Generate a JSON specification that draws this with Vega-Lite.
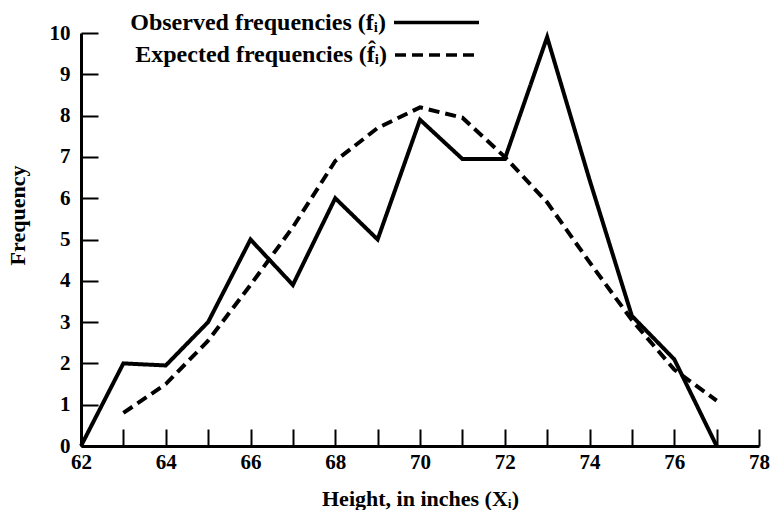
{
  "$schema": "https://vega.github.io/schema/vega-lite/v6.json",
  "width": 678,
  "height": 413,
  "autosize": {"type": "none"},
  "padding": {"left": 81, "top": 33, "right": 14, "bottom": 64},
  "background": "white",
  "config": {
    "view": {"stroke": null},
    "font": "Liberation Serif",
    "axis": {
      "domainColor": "black", "domainWidth": 3, "tickColor": "black", "tickWidth": 2,
      "labelColor": "black", "labelFont": "Liberation Serif", "labelFontSize": 21, "labelFontWeight": "bold",
      "titleColor": "black", "titleFont": "Liberation Serif", "titleFontSize": 22, "titleFontWeight": "bold",
      "grid": false, "labelFlush": false
    },
    "legend": {
      "title": null, "orient": "none", "symbolType": "stroke", "symbolStrokeColor": "black",
      "symbolStrokeWidth": 3.5, "labelAlign": "right", "labelFont": "Liberation Serif", "labelFontSize": 24,
      "labelFontWeight": "bold", "labelColor": "black", "labelLimit": 400
    }
  },
  "data": {
    "values": [
      {"h": 62, "f": 0, "s": "Observed frequencies (fᵢ)"},
      {"h": 63, "f": 2.0, "s": "Observed frequencies (fᵢ)"},
      {"h": 64, "f": 1.95, "s": "Observed frequencies (fᵢ)"},
      {"h": 65, "f": 3.0, "s": "Observed frequencies (fᵢ)"},
      {"h": 66, "f": 5.0, "s": "Observed frequencies (fᵢ)"},
      {"h": 67, "f": 3.9, "s": "Observed frequencies (fᵢ)"},
      {"h": 68, "f": 6.0, "s": "Observed frequencies (fᵢ)"},
      {"h": 69, "f": 5.0, "s": "Observed frequencies (fᵢ)"},
      {"h": 70, "f": 7.9, "s": "Observed frequencies (fᵢ)"},
      {"h": 71, "f": 6.95, "s": "Observed frequencies (fᵢ)"},
      {"h": 72, "f": 6.95, "s": "Observed frequencies (fᵢ)"},
      {"h": 73, "f": 9.9, "s": "Observed frequencies (fᵢ)"},
      {"h": 74, "f": 6.45, "s": "Observed frequencies (fᵢ)"},
      {"h": 75, "f": 3.15, "s": "Observed frequencies (fᵢ)"},
      {"h": 76, "f": 2.1, "s": "Observed frequencies (fᵢ)"},
      {"h": 77, "f": 0, "s": "Observed frequencies (fᵢ)"},
      {"h": 63, "f": 0.8, "s": "Expected frequencies (f̂ᵢ)"},
      {"h": 64, "f": 1.5, "s": "Expected frequencies (f̂ᵢ)"},
      {"h": 65, "f": 2.55, "s": "Expected frequencies (f̂ᵢ)"},
      {"h": 66, "f": 3.9, "s": "Expected frequencies (f̂ᵢ)"},
      {"h": 67, "f": 5.3, "s": "Expected frequencies (f̂ᵢ)"},
      {"h": 68, "f": 6.9, "s": "Expected frequencies (f̂ᵢ)"},
      {"h": 69, "f": 7.7, "s": "Expected frequencies (f̂ᵢ)"},
      {"h": 70, "f": 8.2, "s": "Expected frequencies (f̂ᵢ)"},
      {"h": 71, "f": 7.95, "s": "Expected frequencies (f̂ᵢ)"},
      {"h": 72, "f": 7.0, "s": "Expected frequencies (f̂ᵢ)"},
      {"h": 73, "f": 5.9, "s": "Expected frequencies (f̂ᵢ)"},
      {"h": 74, "f": 4.45, "s": "Expected frequencies (f̂ᵢ)"},
      {"h": 75, "f": 3.05, "s": "Expected frequencies (f̂ᵢ)"},
      {"h": 76, "f": 1.85, "s": "Expected frequencies (f̂ᵢ)"},
      {"h": 77, "f": 1.1, "s": "Expected frequencies (f̂ᵢ)"}
    ]
  },
  "encoding": {
    "x": {
      "field": "h", "type": "quantitative",
      "scale": {"domain": [62, 78], "nice": false, "zero": false},
      "axis": {
        "title": "Height, in inches (Xᵢ)", "values": [62,63,64,65,66,67,68,69,70,71,72,73,74,75,76,77,78],
        "labelExpr": "datum.value % 2 == 0 ? datum.label : ''",
        "tickSize": -17, "labelPadding": 22, "titleY": 42
      }
    },
    "y": {
      "field": "f", "type": "quantitative",
      "scale": {"domain": [0, 10], "nice": false},
      "axis": {
        "title": "Frequency", "values": [0,1,2,3,4,5,6,7,8,9,10],
        "tickSize": -17, "labelPadding": 28, "titleX": -52, "titleY": 182
      }
    }
  },
  "layer": [
    {
      "transform": [{"filter": "datum.s == 'Expected frequencies (f̂ᵢ)'"}],
      "mark": {"type": "line", "strokeWidth": 4, "color": "black", "strokeJoin": "miter"},
      "encoding": {
        "strokeDash": {
          "field": "s", "type": "nominal",
          "scale": {"range": [[11, 6]]},
          "legend": {"legendX": 312, "legendY": -20, "symbolSize": 6400, "labelOffset": -90, "symbolDash": [12, 5]}
        }
      }
    },
    {
      "transform": [{"filter": "datum.s == 'Observed frequencies (fᵢ)'"}],
      "mark": {"type": "line", "strokeWidth": 4, "color": "black", "strokeJoin": "miter"},
      "encoding": {
        "strokeDash": {
          "field": "s", "type": "nominal",
          "scale": {"range": [[1, 0]]},
          "legend": {"legendX": 311, "legendY": -55, "symbolSize": 7225, "labelOffset": -95}
        }
      }
    }
  ],
  "resolve": {"scale": {"strokeDash": "independent"}, "legend": {"strokeDash": "independent"}}
}
